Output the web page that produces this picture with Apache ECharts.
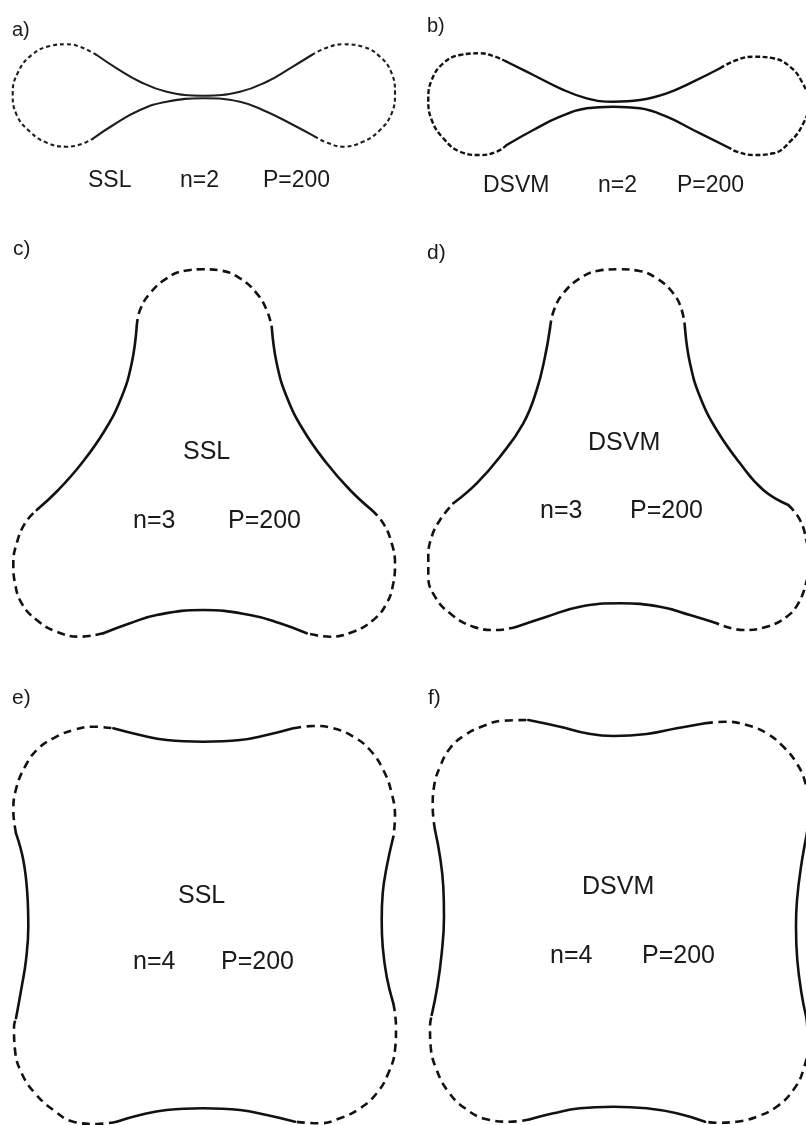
<!DOCTYPE html>
<html>
<head>
<meta charset="utf-8">
<script src="https://cdn.jsdelivr.net/npm/echarts@6/dist/echarts.min.js"></script>
<style>
html,body{margin:0;padding:0;background:#fff;}
#chart{width:806px;height:1125px;}
</style>
</head>
<body>
<div id="chart"></div>
<script>
// ---------- text content ----------
const panelLetters = ['a)', 'b)', 'c)', 'd)', 'e)', 'f)'];
const methodNames = ['SSL', 'DSVM', 'SSL', 'DSVM', 'SSL', 'DSVM'];
const nValues = [2, 2, 3, 3, 4, 4];
const pValues = [200, 200, 200, 200, 200, 200];

// ---------- boundary curves (figure pixel units) ----------
// panel a: SSL n=2
const a_dashed_left = [[96.7,55],[80,46.7],[66.7,44.3],[50,46],[31.7,55],[18.3,71.7],[12.7,93.3],[16.7,115],[30,131.7],[46.7,142.7],[66.7,146.7],[81.7,144],[93.3,138.3]];
const a_solid_upper = [[96.7,55],[116.7,68.3],[140,81.7],[166.7,91.7],[203.3,95.7],[240,91.7],[266.7,81.7],[290,68.3],[311.7,55]];
const a_solid_lower = [[93.3,138.3],[113.3,125],[140,110],[166.7,101.7],[203.3,98.3],[240,101.7],[266.7,111.7],[290,123.3],[315,136.7]];
const a_dashed_right = [[311.7,55],[326.7,47.7],[343,44.3],[363,46.7],[380,56.7],[391.7,73.3],[395,93.3],[391.7,113.3],[380,130],[363,141.7],[343,146.7],[328,143],[315,136.7]];

// panel b: DSVM n=2
const b_dashed_left = [[506.7,61.7],[493.3,56],[480,53.3],[460,55],[443.3,63.3],[431.7,80],[428.3,100],[431.7,120],[443.3,138.3],[460,151.7],[480,155],[496.7,151.7],[506.7,145]];
const b_solid_upper = [[506.7,61.7],[533.3,75],[560,88.3],[586.7,98.3],[613.3,101.7],[640,100],[666.7,93.3],[693.3,81.7],[720,68.3]];
const b_solid_lower = [[506.7,145],[533.3,130],[560,116.7],[586.7,108.3],[613.3,106.7],[640,108.3],[666.7,116.7],[693.3,130],[730,148.3]];
const b_dashed_right = [[720,68.3],[736.7,60],[753.3,56.7],[773.3,58.3],[790,66.7],[802,82],[809,103],[803,124],[790,141.7],[773.3,153.3],[753.3,155],[736.7,151.7],[730,148.3]];

// panel c: SSL n=3
const c_dashed_top = [[136.7,326.7],[140,310],[150,293.3],[166.7,278.3],[185,270.7],[203.3,269.3],[221.7,270.7],[240,278.3],[256.7,293.3],[266.7,310],[271.7,326.7]];
const c_solid_right = [[271.7,326.7],[276.7,363.3],[286.7,396.7],[303.3,430],[326.7,463.3],[350,490],[371.7,510]];
const c_dashed_br = [[371.7,510],[383.3,523.3],[391.7,543.3],[395,563.3],[393.3,583.3],[386.7,603.3],[373.3,620],[353.3,631.7],[330,636.7],[306.7,633.3]];
const c_solid_bottom = [[306.7,633.3],[280,623.3],[250,615],[203.3,610],[156.7,615],[130,623.3],[103.3,633.3]];
const c_dashed_bl = [[103.3,633.3],[80,636.7],[56.7,631.7],[36.7,620],[21.7,603.3],[15,583.3],[13.3,563.3],[16.7,543.3],[25,523.3],[36.7,510]];
const c_solid_left = [[36.7,510],[58.3,490],[81.7,463.3],[105,430],[121.7,396.7],[131.7,363.3],[136.7,326.7]];

// panel d: DSVM n=3
const d_dashed_top = [[550,328.3],[554,310],[563.3,293.3],[580,278.3],[598.3,270.7],[618.3,269.3],[638.3,270.7],[656.7,278.3],[673.3,293.3],[681.7,310],[685,328.3]];
const d_solid_right = [[685,328.3],[690,363.3],[700,396.7],[716.7,430],[740,463.3],[763.3,490],[788.3,505]];
const d_dashed_br = [[788.3,505],[800,520],[807,543],[810,563],[806,583.3],[798.3,603.3],[786.7,616.7],[766.7,626.7],[743.3,630],[716.7,623.3]];
const d_solid_bottom = [[716.7,623.3],[690,615],[660,606.7],[620,603.3],[580,606.7],[546.7,616.7],[516.7,626.7]];
const d_dashed_bl = [[516.7,626.7],[496.7,630],[473.3,626.7],[450,613.3],[435,596.7],[428.3,576.7],[428.3,556.7],[431.7,536.7],[440,520],[453.3,503.3]];
const d_solid_left = [[453.3,503.3],[476.7,483.3],[500,456.7],[523.3,423.3],[536.7,390],[545,356.7],[550,328.3]];

// panel e: SSL n=4
const e_solid_top = [[113.3,728.3],[140,735],[166.7,740],[203.3,741.7],[240,740],[266.7,735],[293.3,728.3]];
const e_dashed_tr = [[293.3,728.3],[313.3,726],[333.3,728.3],[353.3,736.7],[370,750],[383.3,770],[391.7,793.3],[395,816.7],[393.3,836.7]];
const e_solid_right = [[393.3,836.7],[386.7,866.7],[382.7,893.3],[381.7,920],[382.7,946.7],[386.7,976.7],[393.3,1003.3]];
const e_dashed_br = [[393.3,1003.3],[396,1026.7],[395,1050],[388.3,1073.3],[376.7,1093.3],[360,1108.3],[340,1118.3],[320,1123.3],[295,1121.7]];
const e_solid_bottom = [[295,1121.7],[266.7,1115],[240,1110],[203.3,1108.3],[166.7,1110],[140,1115],[116.7,1121.7]];
const e_dashed_bl = [[116.7,1121.7],[96.7,1124],[73.3,1121.7],[53.3,1110],[35,1093.3],[21.7,1073.3],[15,1050],[14,1026.7],[16,1018.3]];
const e_solid_left = [[16,1018.3],[21.7,986.7],[26,960],[28.3,926.7],[27.3,893.3],[23.3,860],[16,833.3]];
const e_dashed_tl = [[16,833.3],[13.3,810],[16.7,786.7],[25,766.7],[36.7,750],[53.3,738.3],[73.3,730],[93.3,726.7],[113.3,728.3]];

// panel f: DSVM n=4
const f_solid_top = [[528.3,720],[560,726.7],[586.7,733.3],[613.3,736],[646.7,734],[676.7,728.3],[705,723.3]];
const f_dashed_tr = [[705,723.3],[725,721.7],[746.7,725],[766.7,733.3],[783.3,746.7],[796.7,763.3],[805,781.7],[809,805],[807,833]];
const f_solid_right = [[807,833],[801,866.7],[797,900],[796,926.7],[797.3,960],[801.5,993.3],[806.5,1018.3]];
const f_dashed_br = [[806.5,1018.3],[808,1043],[803.3,1070],[793.3,1090],[776.7,1106.7],[756.7,1116.7],[736.7,1121.7],[716.7,1122.7],[705,1121.7]];
const f_solid_bottom = [[705,1121.7],[676.7,1113.3],[646.7,1108.3],[613.3,1106.7],[580,1108.3],[553.3,1113.3],[530,1119.3]];
const f_dashed_bl = [[530,1119.3],[510,1121.7],[486.7,1119.3],[465,1108.3],[448.3,1091.7],[436.7,1070],[430.7,1046.7],[430,1026.7],[431.7,1015]];
const f_solid_left = [[431.7,1015],[437.3,986.7],[441.7,953.3],[444,916.7],[443.3,886.7],[440,856.7],[435,830]];
const f_dashed_tl = [[435,830],[432.7,806.7],[434,786.7],[440,766.7],[450,748.3],[465,735],[483.3,726],[503.3,720.7],[528.3,720]];

const panelSolid = [
  [a_solid_upper, a_solid_lower],
  [b_solid_upper, b_solid_lower],
  [c_solid_right, c_solid_bottom, c_solid_left],
  [d_solid_right, d_solid_bottom, d_solid_left],
  [e_solid_top, e_solid_right, e_solid_bottom, e_solid_left],
  [f_solid_top, f_solid_right, f_solid_bottom, f_solid_left]
];
const panelDashed = [
  [a_dashed_left, a_dashed_right],
  [b_dashed_left, b_dashed_right],
  [c_dashed_top, c_dashed_br, c_dashed_bl],
  [d_dashed_top, d_dashed_br, d_dashed_bl],
  [e_dashed_tr, e_dashed_br, e_dashed_bl, e_dashed_tl],
  [f_dashed_tr, f_dashed_br, f_dashed_bl, f_dashed_tl]
];

// ---------- layout (positions / styles) ----------
const layout = [
  {x0:0,   y0:0,   w:403, h:215, lw:2.1, dash:[4,3],   col:'#1e1e1e', fs:23, lfs:20,
   letter:[12,30], name:[88,181], n:[180,181], p:[263,181]},
  {x0:403, y0:0,   w:403, h:215, lw:2.4, dash:[5,2.5], col:'#111', fs:23, lfs:20,
   letter:[427,26], name:[483,186], n:[598,186], p:[677,186]},
  {x0:0,   y0:215, w:403, h:450, lw:2.6, dash:[8,5],   col:'#111', fs:25, lfs:21,
   letter:[13,249], name:[183,452], n:[133,521], p:[228,521]},
  {x0:403, y0:215, w:403, h:450, lw:2.6, dash:[8,5],   col:'#111', fs:25, lfs:21,
   letter:[427,253], name:[588,443], n:[540,511], p:[630,511]},
  {x0:0,   y0:665, w:403, h:460, lw:2.6, dash:[8,5.5], col:'#111', fs:25, lfs:21,
   letter:[12,698], name:[178,896], n:[133,962], p:[221,962]},
  {x0:403, y0:665, w:403, h:460, lw:2.6, dash:[8,5.5], col:'#111', fs:25, lfs:21,
   letter:[428,698], name:[582,887], n:[550,956], p:[642,956]}
];

const FONT = '"Liberation Sans", Arial, Helvetica, sans-serif';
const grids = [], xAxes = [], yAxes = [], series = [], graphics = [];

layout.forEach((L, i) => {
  grids.push({left: L.x0, top: L.y0, width: L.w, height: L.h, containLabel: false});
  xAxes.push({type: 'value', gridIndex: i, min: L.x0, max: L.x0 + L.w, show: false});
  yAxes.push({type: 'value', gridIndex: i, min: L.y0, max: L.y0 + L.h, inverse: true, show: false});
  panelSolid[i].forEach(seg => series.push({
    type: 'line', xAxisIndex: i, yAxisIndex: i, data: seg, smooth: 0.45,
    showSymbol: false, symbol: 'none', clip: false, silent: true,
    lineStyle: {color: L.col, width: L.lw, type: 'solid', cap: 'round'}
  }));
  panelDashed[i].forEach(seg => series.push({
    type: 'line', xAxisIndex: i, yAxisIndex: i, data: seg, smooth: 0.45,
    showSymbol: false, symbol: 'none', clip: false, silent: true,
    lineStyle: {color: L.col, width: L.lw, type: L.dash, cap: 'butt'}
  }));
  const txt = (s, pos, size) => ({
    type: 'text', x: pos[0], y: pos[1], silent: true,
    style: {text: s, font: size + 'px ' + FONT, fill: '#1a1a1a', align: 'left', verticalAlign: 'middle'}
  });
  graphics.push(txt(panelLetters[i], L.letter, L.lfs));
  graphics.push(txt(methodNames[i], L.name, L.fs));
  graphics.push(txt('n=' + nValues[i], L.n, L.fs));
  graphics.push(txt('P=' + pValues[i], L.p, L.fs));
});

const chart = echarts.init(document.getElementById('chart'), null, {renderer: 'canvas'});
chart.setOption({
  backgroundColor: '#ffffff',
  animation: false,
  grid: grids,
  xAxis: xAxes,
  yAxis: yAxes,
  series: series,
  graphic: graphics
});
</script>
</body>
</html>
